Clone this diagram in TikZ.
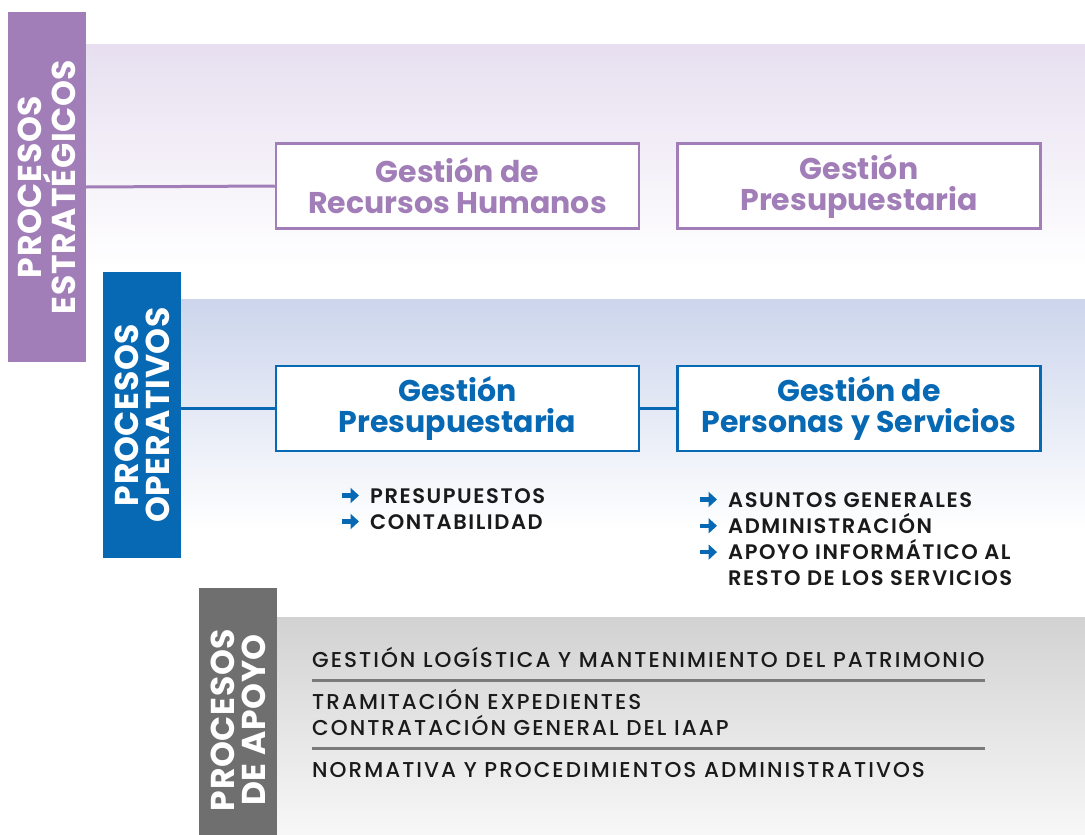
\documentclass[tikz,border=0pt]{standalone}
\usepackage{fontspec}
\usetikzlibrary{arrows.meta}
\setmainfont{Poppins}
\newfontfamily\medio{Poppins Medium}[LetterSpace = 9.5]
\newfontfamily\semi{Poppins SemiBold}[LetterSpace = 7.5]
\newfontfamily\barfont{Poppins}[LetterSpace = 2]
\definecolor{morado}{HTML}{A27EB8}
\definecolor{moradoclaro}{HTML}{E7DFF0}
\definecolor{azul}{HTML}{0769B4}
\definecolor{azulclaro}{HTML}{CCD5EC}
\definecolor{gris}{HTML}{6F6F6F}
\definecolor{grisclaro}{HTML}{D2D2D2}
\definecolor{grislinea}{HTML}{7A7A7A}
\definecolor{tinta}{HTML}{1A1A1A}
\begin{document}
\begin{tikzpicture}[x = 1pt, y = 1pt,
    bar/.style = {rotate = 90, minimum height = 78pt, inner sep = 0pt, align = center,
        text = white, font = \barfont\bfseries\fontsize{33}{31}\selectfont},
    caja/.style = {draw, line width = 2.5pt, fill = white, minimum width = 363pt,
        minimum height = 85pt, inner sep = 0pt, align = center,
        font = \bfseries\fontsize{30}{31}\selectfont},
    lista/.style = {anchor = base west, inner sep = 0pt, text = tinta,
        font = \semi\fontsize{21}{26}\selectfont},
    flecha/.style = {azul, line width = 4.4pt, -{Triangle[width = 15pt, length = 8.5pt]}},
    apoyo/.style = {anchor = base west, inner sep = 0pt, text = tinta,
        font = \medio\fontsize{21.5}{26}\selectfont},
    separa/.style = {grislinea, line width = 3pt}]
    \useasboundingbox (0, 0) rectangle (1085, -835);
    % bandas de fondo
    \shade [top color = moradoclaro, bottom color = white] (86, -44) rectangle (1085, -268);
    \shade [top color = azulclaro, bottom color = white] (181, -299) rectangle (1085, -530);
    \shade [top color = grisclaro, bottom color = white!97!black] (277, -617) rectangle (1085, -835);
    % procesos estrategicos
    \node [bar, fill = morado, minimum width = 350pt] (estr) at (47, -187) {PROCESOS\\ESTRATÉGICOS};
    \node [caja, draw = morado, text = morado] (rrhh) at (457.5, -186) {Gestión de\\Recursos Humanos};
    \node [caja, draw = morado, text = morado] (presA) at (859, -186) {Gestión\\Presupuestaria};
    \draw [morado, line width = 3pt] (estr.south) -- (rrhh.west);
    % procesos operativos
    \node [bar, fill = azul, minimum width = 286pt] (oper) at (142, -415) {PROCESOS\\OPERATIVOS};
    \node [caja, draw = azul, text = azul] (presB) at (457.5, -408.5) {Gestión\\Presupuestaria};
    \node [caja, draw = azul, text = azul] (pers) at (859, -408.5) {Gestión de\\Personas y Servicios};
    \draw [azul, line width = 3pt] (oper.south |- presB.west) -- (presB.west);
    \draw [azul, line width = 3pt] (presB.east) -- (pers.west);
    \node [lista] (presu) at (370, -503) {PRESUPUESTOS};
    \node [lista] (conta) at (370, -529) {CONTABILIDAD};
    \node [lista] (asunt) at (728, -507) {ASUNTOS GENERALES};
    \node [lista] (admin) at (728, -533.3) {ADMINISTRACIÓN};
    \node [lista] (infor) at (728, -559.6) {APOYO INFORMÁTICO AL};
    \node [lista] (resto) at (728, -585.9) {RESTO DE LOS SERVICIOS};
    \foreach \n in {presu, conta, asunt, admin, infor}
        \draw [flecha] ([xshift = -28pt, yshift = 7.5pt] \n.base west) -- ++(17, 0);
    % procesos de apoyo
    \node [bar, fill = gris, minimum width = 264pt] (apoy) at (238, -720) {PROCESOS\\DE APOYO};
    \node [apoyo] (logis) at (312, -667) {GESTIÓN LOGÍSTICA Y MANTENIMIENTO DEL PATRIMONIO};
    \node [apoyo] (trami) at (312, -709) {TRAMITACIÓN EXPEDIENTES};
    \node [apoyo] (contr) at (312, -735) {CONTRATACIÓN GENERAL DEL IAAP};
    \node [apoyo] (norma) at (312, -777) {NORMATIVA Y PROCEDIMIENTOS ADMINISTRATIVOS};
    \draw [separa] (312, -680) -- (985, -680);
    \draw [separa] (312, -748) -- (985, -748);
\end{tikzpicture}
\end{document}
